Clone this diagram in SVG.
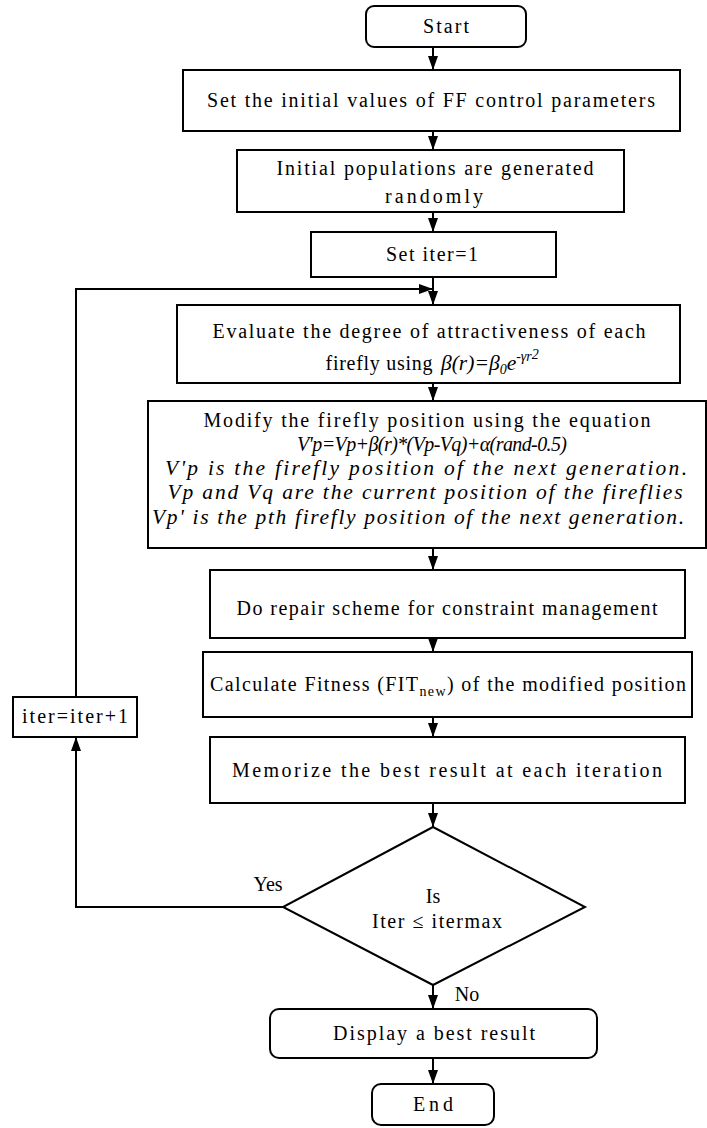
<svg xmlns="http://www.w3.org/2000/svg" width="707" height="1128" viewBox="0 0 707 1128">
<defs>
<marker id="arr" viewBox="0 0 14 10" markerWidth="14" markerHeight="10" refX="14" refY="5" orient="auto" markerUnits="userSpaceOnUse"><path d="M0,0 L14,5 L0,10 z" fill="#000"/></marker>
</defs>
<style>
.box{fill:#fff;stroke:#000;stroke-width:2}
.t{font-family:"Liberation Serif","Times New Roman",serif;font-size:20px;fill:#000;text-anchor:middle}
.i{font-style:italic;font-size:21.5px}
.c{fill:none;stroke:#000;stroke-width:2}
</style>
<rect width="707" height="1128" fill="#fff"/>
<g id="connectors">
<path class="c" d="M433,47 V70" marker-end="url(#arr)"/>
<path class="c" d="M433,131 V150" marker-end="url(#arr)"/>
<path class="c" d="M433,212 V232" marker-end="url(#arr)"/>
<path class="c" d="M433,277 V305" marker-end="url(#arr)"/>
<path class="c" d="M76,697 V289 H433" marker-end="url(#arr)"/>
<path class="c" d="M433,383 V401" marker-end="url(#arr)"/>
<path class="c" d="M433,548 V570" marker-end="url(#arr)"/>
<path class="c" d="M433,638 V652" marker-end="url(#arr)"/>
<path class="c" d="M433,717 V737" marker-end="url(#arr)"/>
<path class="c" d="M433,803 V827" marker-end="url(#arr)"/>
<path class="c" d="M283,907 H76 V737" marker-end="url(#arr)"/>
<path class="c" d="M433,985 V1009" marker-end="url(#arr)"/>
<path class="c" d="M433,1058 V1084" marker-end="url(#arr)"/>
<text class="t" x="268" y="891" font-size="19">Yes</text>
<text class="t" x="467" y="1001" font-size="19">No</text>
</g>
<g id="start">
<rect class="box" x="366" y="6" width="160" height="41" rx="8"/>
<text class="t" x="446" y="33" textLength="46" lengthAdjust="spacing">Start</text>
</g>
<g id="init">
<rect class="box" x="183" y="70" width="497" height="61"/>
<text class="t" x="431" y="107" textLength="448" lengthAdjust="spacing">Set the initial values of FF control parameters</text>
</g>
<g id="pop">
<rect class="box" x="237" y="150" width="387" height="62"/>
<text class="t" x="435" y="175" textLength="317" lengthAdjust="spacing">Initial populations are generated</text>
<text class="t" x="434" y="203" textLength="98" lengthAdjust="spacing">randomly</text>
</g>
<g id="setiter">
<rect class="box" x="311" y="232" width="245" height="45"/>
<text class="t" x="432" y="261" textLength="92" lengthAdjust="spacing">Set iter=1</text>
</g>
<g id="evaluate">
<rect class="box" x="177" y="305" width="503" height="78"/>
<text class="t" x="429" y="338" textLength="433" lengthAdjust="spacing">Evaluate the degree of attractiveness of each</text>
<text class="t" x="379" y="370" textLength="107" lengthAdjust="spacing">firefly using</text>
<text class="t i" x="441" y="370" style="text-anchor:start">β(r)=β<tspan font-size="14" dy="4">0</tspan><tspan dy="-4">e</tspan><tspan font-size="14" dy="-9">-γr</tspan><tspan font-size="14" dy="-2">2</tspan></text>
</g>
<g id="modify">
<rect class="box" x="148" y="401" width="558" height="147"/>
<text class="t" x="427" y="427" textLength="447" lengthAdjust="spacing">Modify the firefly position using the equation</text>
<text class="t i" x="432" y="451" style="font-size:20px" textLength="270" lengthAdjust="spacing">V'p=Vp+β(r)*(Vp-Vq)+α(rand-0.5)</text>
<text class="t i" x="426" y="475" textLength="522" lengthAdjust="spacing">V'p is the firefly position of the next generation.</text>
<text class="t i" x="425" y="499" textLength="515" lengthAdjust="spacing">Vp and Vq are the current position of the fireflies</text>
<text class="t i" x="418" y="524" textLength="532" lengthAdjust="spacing">Vp' is the pth firefly position of the next generation.</text>
</g>
<g id="repair">
<rect class="box" x="210" y="570" width="475" height="68"/>
<text class="t" x="447" y="615" textLength="421" lengthAdjust="spacing">Do repair scheme for constraint management</text>
</g>
<g id="fitness">
<rect class="box" x="203" y="652" width="489" height="65"/>
<text class="t" x="210" y="691" style="text-anchor:start" textLength="476" lengthAdjust="spacing">Calculate Fitness (FIT<tspan font-size="14" dy="5">new</tspan><tspan dy="-5">) of the modified position</tspan></text>
</g>
<g id="memorize">
<rect class="box" x="210" y="737" width="475" height="66"/>
<text class="t" x="447" y="777" textLength="430" lengthAdjust="spacing">Memorize the best result at each iteration</text>
</g>
<g id="iterinc">
<rect class="box" x="13" y="697" width="124" height="40"/>
<text class="t" x="75" y="723" textLength="106" lengthAdjust="spacing">iter=iter+1</text>
</g>
<g id="decision">
<polygon class="box" points="433,827 585,907 433,985 283,907"/>
<text class="t" x="433" y="903" font-size="17">Is</text>
<text class="t" x="437" y="928" font-size="17" textLength="130" lengthAdjust="spacing">Iter  ≤  itermax</text>
</g>
<g id="display">
<rect class="box" x="270" y="1009" width="327" height="49" rx="9"/>
<text class="t" x="434" y="1040" textLength="202" lengthAdjust="spacing">Display a best result</text>
</g>
<g id="end">
<rect class="box" x="372" y="1084" width="122" height="41" rx="9"/>
<text class="t" x="433" y="1111" textLength="40" lengthAdjust="spacing">End</text>
</g>
</svg>
